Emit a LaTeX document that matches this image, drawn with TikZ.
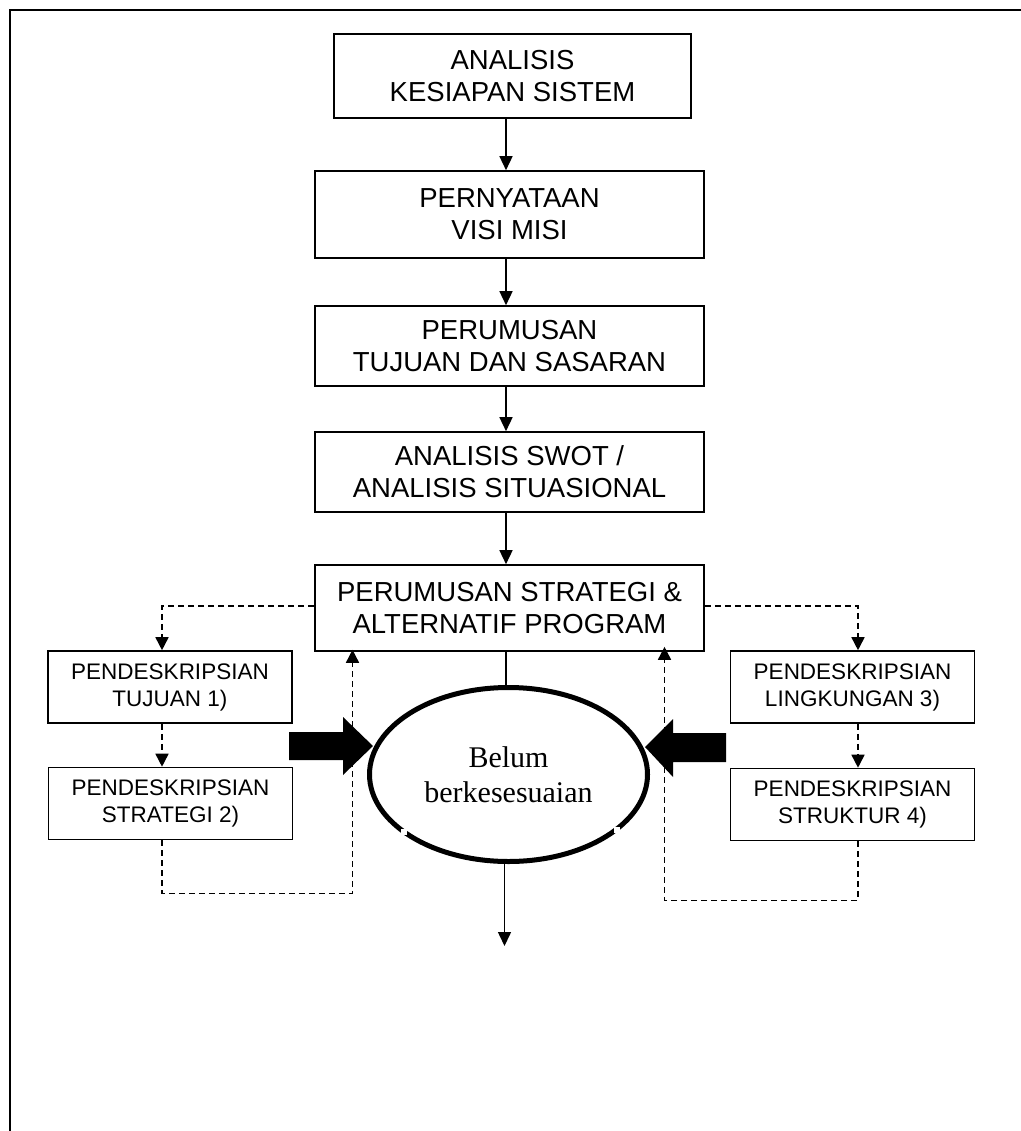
\documentclass[tikz,border=0pt]{standalone}
\usepackage{fontspec}
\setmainfont{Liberation Serif}
\newfontfamily\boxfont{Liberation Sans}
\usetikzlibrary{arrows.meta,shapes.geometric}

\tikzset{
  mainbox/.style={draw, line width=1.6pt, align=center, inner sep=0pt,
    font=\boxfont\fontsize{27.5}{32}\selectfont},
  subbox/.style={draw, line width=1.6pt, align=center, inner sep=0pt,
    minimum width=244pt, minimum height=72pt,
    font=\boxfont\fontsize{22.5}{27}\selectfont},
  arr/.style={-{Triangle[length=14pt,width=13pt]}, line width=1.5pt},
  dsh/.style={dash pattern=on 6pt off 4pt, line width=1.6pt,
    -{Triangle[length=13pt,width=13pt]}},
  blockarrow/.style={fill=black, draw=none},
}

\begin{document}
\begin{tikzpicture}[x=1pt,y=-1pt]
  \useasboundingbox (0,0) rectangle (1020,1131);

  % outer frame (continues beyond the page on the right and bottom)
  \draw[line width=2pt] (9.5,1140) -- (9.5,10.5) -- (1030,10.5);

  % guide coordinates for the connector runs
  \coordinate (spine) at (506,0);
  \coordinate (ly) at (0,606);
  \coordinate (lx) at (162,0);
  \coordinate (rx) at (858,0);
  \coordinate (lret) at (352.5,0);
  \coordinate (rret) at (664.5,0);

  % main column
  \node[mainbox, minimum width=357pt, minimum height=84pt] (b1) at (512.5,76)
    {ANALISIS\\KESIAPAN SISTEM};
  \node[mainbox, minimum width=389pt, minimum height=87pt] (b2) at (509.5,214.5)
    {PERNYATAAN\\VISI MISI};
  \node[mainbox, minimum width=389pt, minimum height=80pt] (b3) at (509.5,346)
    {PERUMUSAN\\TUJUAN DAN SASARAN};
  \node[mainbox, minimum width=389pt, minimum height=80pt] (b4) at (509.5,472)
    {ANALISIS SWOT /\\ANALISIS SITUASIONAL};
  \node[mainbox, minimum width=389pt, minimum height=86pt] (b5) at (509.5,608)
    {PERUMUSAN STRATEGI \&\\ALTERNATIF PROGRAM};

  % side description boxes
  \node[subbox] (t1) at (170,687) {PENDESKRIPSIAN\\TUJUAN 1)};
  \node[subbox] (t2) at (170.5,803.5) {PENDESKRIPSIAN\\STRATEGI 2)};
  \node[subbox] (t3) at (852.5,687) {PENDESKRIPSIAN\\LINGKUNGAN 3)};
  \node[subbox] (t4) at (852.5,804.5) {PENDESKRIPSIAN\\STRUKTUR 4)};

  % central ellipse
  \node[ellipse, draw, line width=5pt, inner sep=0pt,
        minimum width=278pt, minimum height=174pt, align=center,
        font=\fontsize{30}{35}\selectfont] (el) at (508.5,774.5)
    {Belum\\berkesesuaian};
  % small breaks in the ellipse outline
  \fill[white] (401,829) rectangle (407,835);
  \fill[white] (614,827) rectangle (620,833);

  \coordinate (out) at (504.5,946);

  % solid flow down the column
  \draw[arr] (b1.south -| spine) -- (b2.north -| spine);
  \draw[arr] (b2.south -| spine) -- (b3.north -| spine);
  \draw[arr] (b3.south -| spine) -- (b4.north -| spine);
  \draw[arr] (b4.south -| spine) -- (b5.north -| spine);
  \draw[line width=1.5pt] (b5.south -| spine) -- (el.north -| spine);
  \draw[arr] (el.south -| out) -- (out);

  % dashed loop on the left
  \draw[dsh] (b5.west |- ly) -| (t1.north -| lx);
  \draw[dsh] (t1.south -| lx) -- (t2.north -| lx);
  \draw[dsh] (t2.south -| lx) -- ++(0,53) -| ([yshift=2pt]b5.south -| lret);

  % dashed loop on the right
  \draw[dsh] (b5.east |- ly) -| (t3.north -| rx);
  \draw[dsh] (t3.south -| rx) -- (t4.north -| rx);
  \draw[dsh] (t4.south -| rx) -- ++(0,59) -| ([yshift=5pt]b5.south -| rret);

  % heavy arrows pressing on the ellipse
  \fill[blockarrow] (289,732) -- (343,732) -- (343,717) -- (373,746)
    -- (343,775) -- (343,760) -- (289,760) -- cycle;
  \fill[blockarrow] (726,733) -- (673,733) -- (673,719) -- (645,747)
    -- (673,777) -- (673,762) -- (726,762) -- cycle;
\end{tikzpicture}
\end{document}
